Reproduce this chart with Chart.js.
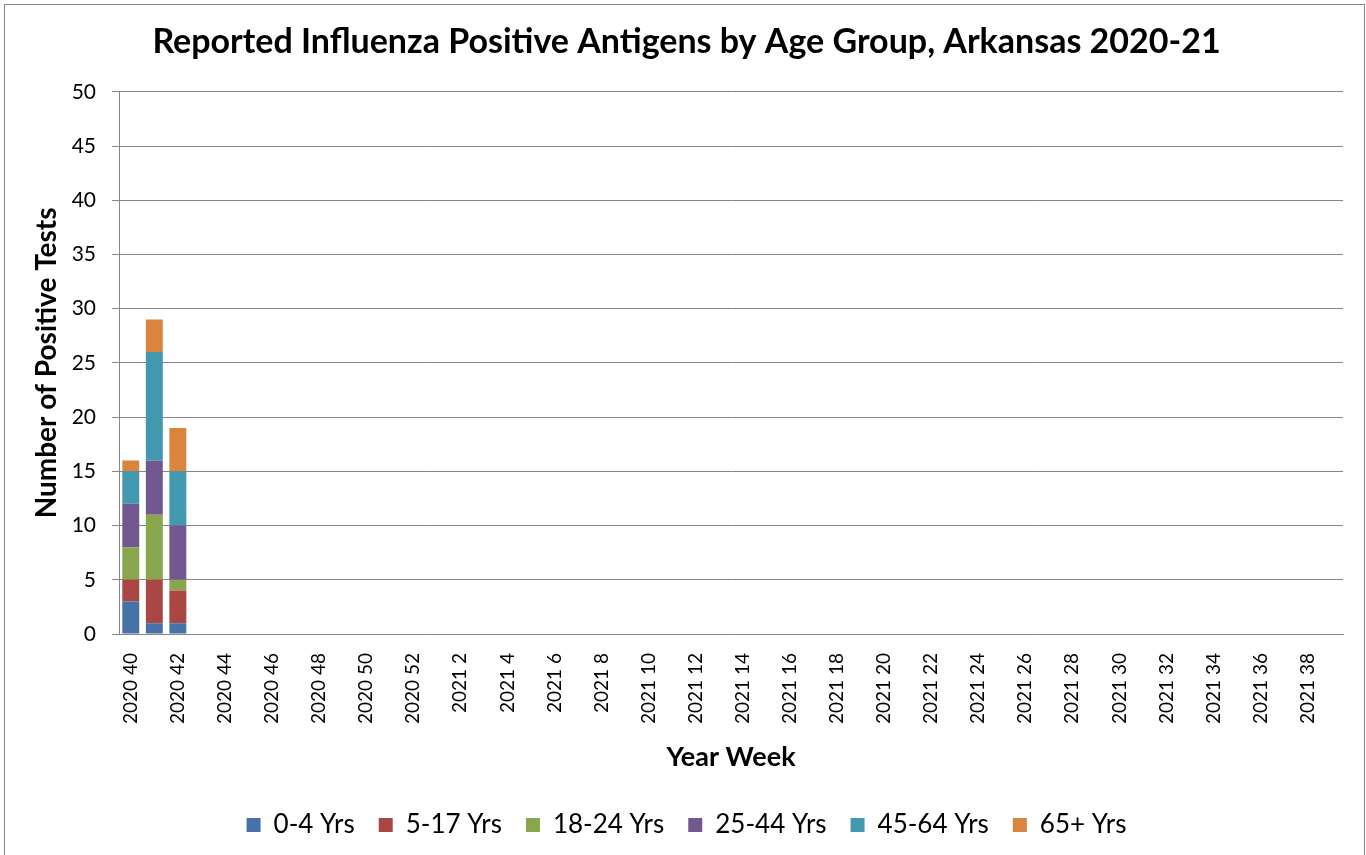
<!DOCTYPE html>
<html>
<head>
<meta charset="utf-8">
<script src="https://cdn.jsdelivr.net/npm/chart.js@4/dist/chart.umd.min.js"></script>
<style>
  html, body { margin: 0; padding: 0; background: #fff; }
  #wrap { width: 1366px; height: 855px; }
</style>
</head>
<body>
<div id="wrap"><canvas id="chart" width="1366" height="855"></canvas></div>
<script>
// Year-week categories, 2020 40 through 2021 39
const weeks = [
  '2020 40', '2020 41', '2020 42', '2020 43', '2020 44', '2020 45', '2020 46', '2020 47',
  '2020 48', '2020 49', '2020 50', '2020 51', '2020 52',
  '2021 1', '2021 2', '2021 3', '2021 4', '2021 5', '2021 6', '2021 7', '2021 8', '2021 9',
  '2021 10', '2021 11', '2021 12', '2021 13', '2021 14', '2021 15', '2021 16', '2021 17',
  '2021 18', '2021 19', '2021 20', '2021 21', '2021 22', '2021 23', '2021 24', '2021 25',
  '2021 26', '2021 27', '2021 28', '2021 29', '2021 30', '2021 31', '2021 32', '2021 33',
  '2021 34', '2021 35', '2021 36', '2021 37', '2021 38', '2021 39'
];

// counts reported so far (remaining weeks have no data yet)
const age0to4   = [3, 1, 1];
const age5to17  = [2, 4, 3];
const age18to24 = [3, 6, 1];
const age25to44 = [4, 5, 5];
const age45to64 = [3, 10, 5];
const age65plus = [1, 3, 4];

const yTicks = [0, 5, 10, 15, 20, 25, 30, 35, 40, 45, 50];

const FONT = 'Lato, "Open Sans", sans-serif';

const frame = {
  id: 'frame',
  beforeDraw(chart) {
    const ctx = chart.ctx;
    ctx.save();
    ctx.fillStyle = '#fff';
    ctx.fillRect(0, 0, chart.width, chart.height);
    ctx.strokeStyle = '#868686';
    ctx.lineWidth = 1;
    ctx.strokeRect(4.5, 4.5, 1360, 860);
    ctx.restore();
  }
};

const ds = (label, data, color) => ({
  label, data, backgroundColor: color, borderWidth: 0,
  categoryPercentage: 1, barPercentage: 0.72
});

new Chart(document.getElementById('chart'), {
  type: 'bar',
  data: {
    labels: weeks,
    datasets: [
      ds('0-4 Yrs', age0to4, '#4572A7'),
      ds('5-17 Yrs', age5to17, '#AA4643'),
      ds('18-24 Yrs', age18to24, '#89A54E'),
      ds('25-44 Yrs', age25to44, '#71588F'),
      ds('45-64 Yrs', age45to64, '#4198AF'),
      ds('65+ Yrs', age65plus, '#DB843D')
    ]
  },
  options: {
    responsive: false,
    animation: false,
    layout: { padding: { left: 30, right: 23, top: 10, bottom: 7 } },
    plugins: {
      title: {
        display: true,
        text: 'Reported Influenza Positive Antigens by Age Group, Arkansas 2020-21',
        color: '#000',
        font: { family: FONT, size: 34, weight: 'bold' },
        padding: { top: 12, bottom: 29 }
      },
      legend: {
        position: 'bottom',
        labels: {
          color: '#000',
          font: { family: FONT, size: 26 },
          boxWidth: 14, boxHeight: 14, padding: 24
        }
      },
      tooltip: { enabled: false }
    },
    scales: {
      x: {
        stacked: true,
        grid: { display: false },
        border: { color: '#868686' },
        title: {
          display: true, text: 'Year Week', color: '#000',
          font: { family: FONT, size: 27, weight: 'bold' }, padding: { top: 0, bottom: 15 }
        },
        ticks: {
          autoSkip: false, minRotation: 90, maxRotation: 90, color: '#000',
          font: { family: FONT, size: 19 }, padding: 11,
          callback: (v, i) => (i % 2 === 0 ? weeks[i] : '')
        },
        afterFit: (s) => { s.height = 154; }
      },
      y: {
        stacked: true,
        min: 0, max: 50,
        afterBuildTicks: (s) => { s.ticks = yTicks.map(v => ({ value: v })); },
        grid: { color: '#868686', tickLength: 7 },
        border: { color: '#868686' },
        title: {
          display: true, text: 'Number of Positive Tests', color: '#000',
          font: { family: FONT, size: 28, weight: 'bold' }, padding: { top: 0, bottom: 0 }
        },
        ticks: { color: '#000', font: { family: FONT, size: 21 }, padding: 16 },
        afterFit: (s) => { s.width = 89; }
      }
    }
  },
  plugins: [frame]
});
</script>
</body>
</html>
